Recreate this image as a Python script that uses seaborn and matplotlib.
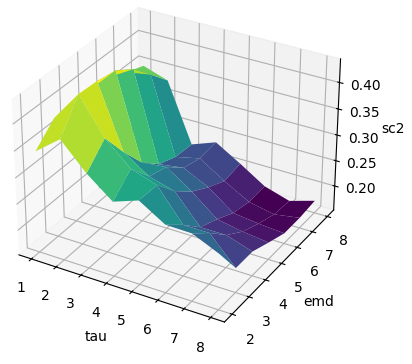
import matplotlib
matplotlib.use('Agg')
import matplotlib.pyplot as plt
import numpy as np
import seaborn as sns

tau = [1, 2, 3, 4, 5, 6, 7, 8]
emd = [2, 3, 4, 5, 6, 7, 8]
# one row per emd, one column per tau
sc2 = [
    [0.345, 0.381, 0.332, 0.294, 0.311, 0.281, 0.280, 0.258],
    [0.379, 0.436, 0.369, 0.326, 0.310, 0.250, 0.250, 0.199],
    [0.384, 0.434, 0.315, 0.283, 0.269, 0.215, 0.215, 0.199],
    [0.381, 0.428, 0.267, 0.272, 0.239, 0.200, 0.191, 0.185],
    [0.377, 0.405, 0.235, 0.242, 0.218, 0.182, 0.176, 0.172],
    [0.361, 0.369, 0.221, 0.232, 0.201, 0.174, 0.164, 0.172],
    [0.348, 0.332, 0.218, 0.236, 0.207, 0.176, 0.161, 0.176],
]

X, Y = np.meshgrid(tau, emd)
Z = np.array(sc2)

fig = plt.figure(figsize=(4.12, 3.64), dpi=100)
ax = fig.add_subplot(projection='3d')
ax.plot_surface(X, Y, Z, cmap=sns.color_palette('viridis', as_cmap=True))
ax.set_xlabel('tau')
ax.set_ylabel('emd')
ax.set_zlabel('sc2')
ax.set_xticks(tau)
ax.set_yticks(emd)
ax.set_zlim(0.152, 0.444)
ax.set_position([-0.021, 0.052, 0.888, 1.005])
fig.savefig('out.png', dpi=100)
